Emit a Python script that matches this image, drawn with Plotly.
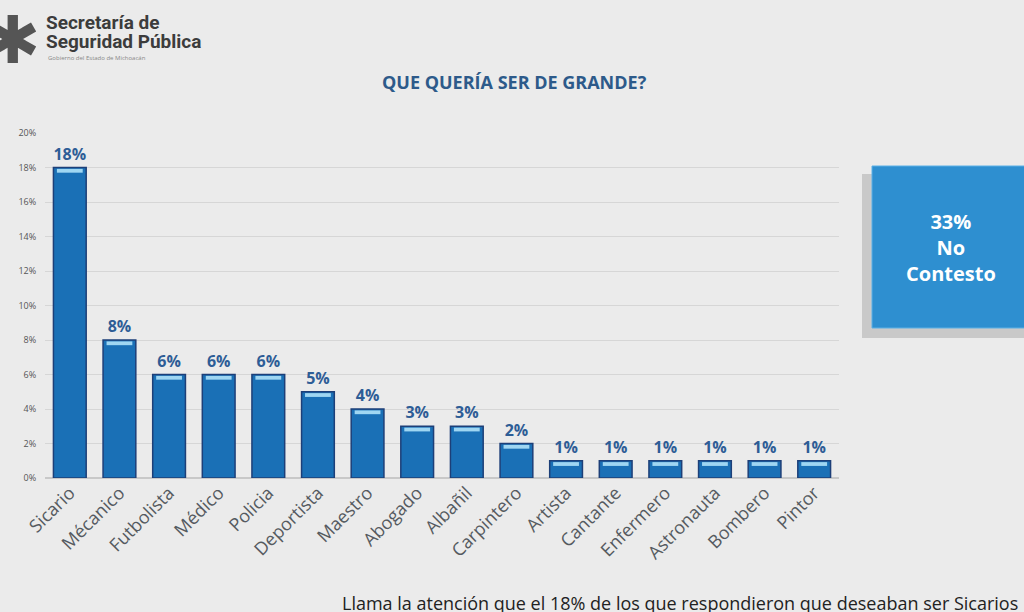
import plotly.graph_objects as go

# data
ocupaciones = ["Sicario", "Mécanico", "Futbolista", "Médico", "Policia", "Deportista",
               "Maestro", "Abogado", "Albañil", "Carpintero", "Artista", "Cantante",
               "Enfermero", "Astronauta", "Bombero", "Pintor"]
porcentajes = [18, 8, 6, 6, 6, 5, 4, 3, 3, 2, 1, 1, 1, 1, 1, 1]
y_ticks = [0, 2, 4, 6, 8, 10, 12, 14, 16, 18, 20]
no_contesto = 33

bg = "#ebebeb"
L, T, PW, PH = 45, 133, 794, 345   # plot area in pixels


def px(x):
    return (x - L) / PW


def py(y):
    return (T + PH - y) / PH


fig = go.Figure()
fig.add_trace(go.Bar(
    x=ocupaciones,
    y=porcentajes,
    marker=dict(color="#1a70b6", line=dict(color="#1d3f78", width=1.5)),
    width=0.66,
    text=[f"<b>{v}%</b>" for v in porcentajes],
    textposition="outside",
    textfont=dict(family="Open Sans", size=16, color="#2e5d96"),
    cliponaxis=False,
    hoverinfo="skip",
))
# light bevel strip at the top of every bar
fig.add_trace(go.Bar(
    x=ocupaciones,
    y=[0.22] * len(porcentajes),
    base=[v - 0.3 for v in porcentajes],
    marker=dict(color="#9fd6f2", line=dict(width=0)),
    width=0.52,
    hoverinfo="skip",
))

fig.update_layout(
    width=1024, height=612,
    paper_bgcolor=bg, plot_bgcolor=bg,
    margin=dict(l=L, r=1024 - L - PW, t=T, b=612 - T - PH),
    showlegend=False,
    font=dict(family="Open Sans"),
    barmode="overlay",
)
fig.update_yaxes(
    range=[0, 20], tickvals=y_ticks, ticktext=[f"{t}%" for t in y_ticks],
    showgrid=True, gridcolor="#d6d6d6", gridwidth=1,
    zeroline=True, zerolinecolor="#c8c8c8",
    tickfont=dict(size=9, color="#555555"), ticks="outside", ticklen=6,
    tickcolor=bg,
)
fig.update_xaxes(
    tickangle=-45, tickfont=dict(size=18, color="#555a60"),
    showline=False, ticks="",
)

# title
fig.add_annotation(
    text="<b>QUE QUERÍA SER DE GRANDE?</b>", x=px(514), y=py(82), xref="paper", yref="paper",
    xanchor="center", yanchor="middle", showarrow=False, font=dict(size=18, color="#2d5a8a"),
)

# logo
fig.add_annotation(
    text="✱", x=px(12), y=py(40), xref="paper", yref="paper", showarrow=False,
    xanchor="center", yanchor="middle",
    font=dict(size=66, color="#555555", family="DejaVu Sans"),
)
fig.add_annotation(
    text="<b>Secretaría de</b>", xref="paper", yref="paper",
    x=px(44), y=py(23), xanchor="left", yanchor="middle",
    showarrow=False, font=dict(size=19, color="#3c3c3c", family="Roboto"),
)
fig.add_annotation(
    text="<b>Seguridad Pública</b>", xref="paper", yref="paper",
    x=px(44), y=py(41), xanchor="left", yanchor="middle",
    showarrow=False, font=dict(size=19, color="#3c3c3c", family="Roboto"),
)
fig.add_annotation(
    text="Gobierno del Estado de Michoacán", xref="paper", yref="paper",
    x=px(46), y=py(58), xanchor="left", yanchor="middle",
    showarrow=False, font=dict(size=6, color="#888888"),
)

# "No contesto" box with shadow
fig.add_shape(type="rect", xref="paper", yref="paper",
              x0=px(862), x1=px(1030), y0=py(338), y1=py(174),
              fillcolor="#a8a8a8", line=dict(width=0), opacity=0.5, layer="above")
fig.add_shape(type="rect", xref="paper", yref="paper",
              x0=px(872), x1=px(1030), y0=py(328), y1=py(166),
              fillcolor="#2e8fd0", line=dict(color="#5ab0e6", width=1), layer="above")
fig.add_annotation(
    text=f"<b>{no_contesto}%<br>No<br>Contesto</b>", xref="paper", yref="paper",
    x=px(951), y=py(247), showarrow=False, xanchor="center", yanchor="middle",
    font=dict(size=20, color="white"), align="center",
)

# bottom note (cut off on the slide)
fig.add_annotation(
    text="Llama la atención que el 18% de los que respondieron que deseaban ser Sicarios",
    xref="paper", yref="paper", x=px(340), y=py(603),
    xanchor="left", yanchor="middle", showarrow=False,
    font=dict(size=18, color="#222222"),
)

fig.write_html("out.html", config={"displayModeBar": False},
               post_script="document.body.style.margin='0';")
